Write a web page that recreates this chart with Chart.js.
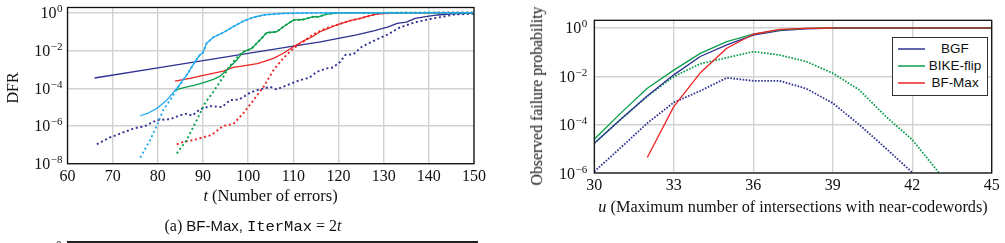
<!DOCTYPE html>
<html><head><meta charset="utf-8">
<script src="https://cdn.jsdelivr.net/npm/chart.js@4.4.1/dist/chart.umd.min.js"></script>
<style>
html,body{margin:0;padding:0;background:#fff;}
#wrap{position:relative;width:1005px;height:243px;overflow:hidden;background:#fff;}
canvas{position:absolute;top:0;}
.t{position:absolute;white-space:nowrap;font-family:"Liberation Serif",serif;color:#111;line-height:1;}
.sans{font-family:"Liberation Sans",Arial,sans-serif;}
.mono{font-family:"Liberation Mono",monospace;}
#legend{position:absolute;left:892px;top:37px;width:94px;height:57px;border:1px solid #333;background:#fff;}
#legend .row{position:absolute;left:0;width:94px;height:16px;}
#legend .ln{position:absolute;left:5px;width:27px;height:2px;top:7px;}
#legend .lb{position:absolute;left:62px;transform:translateX(-50%);white-space:nowrap;text-align:center;font-family:"Liberation Sans",Arial,sans-serif;font-size:13.5px;line-height:16px;color:#111;top:0;}
</style></head><body>
<div id="wrap">
<canvas id="c1" width="490" height="215" style="left:0px"></canvas>
<canvas id="c2" width="505" height="215" style="left:500px"></canvas>

<div class="t" style="left:270.5px;top:196px;transform:translate(-50%,-50%);font-size:16.5px;"><i>t</i> (Number of errors)</div>
<div class="t" style="left:13px;top:88px;transform:translate(-50%,-50%) rotate(-90deg);font-size:16px;">DFR</div>
<div class="t" style="left:253px;top:227px;transform:translate(-50%,-50%);font-size:16px;">(a) <span class="sans" style="font-size:15px">BF-Max,</span> <span class="mono" style="font-size:15.5px">IterMax</span> = 2<i>t</i></div>
<div style="position:absolute;left:67px;top:241.3px;width:411px;height:1.6px;background:#222;"></div>
<div class="t" style="left:56px;top:238.5px;font-size:11px;">0</div>

<div class="t" style="left:793px;top:207px;transform:translate(-50%,-50%);font-size:16.3px;"><i>u</i> (Maximum number of intersections with near-codewords)</div>
<div class="t" style="left:537px;top:96px;transform:translate(-50%,-50%) rotate(-90deg);font-size:15.8px;">Observed failure probability</div>
<div id="legend"></div>
</div>
<script>
// ---------- Left chart data: t (number of errors) vs DFR ----------
const xTicks1 = [60, 70, 80, 90, 100, 110, 120, 130, 140, 150];
const yTicks1 = [1e-8, 1e-6, 1e-4, 1e-2, 1];

const navySolidT = [66, 80, 90, 100, 110, 116, 120, 124, 128, 131, 133, 135, 137, 140, 142, 145, 150];
const navySolidV = [3.47e-4, 1.2e-3, 2.88e-3, 7.08e-3, 1.7e-2, 2.88e-2, 4.37e-2, 6.61e-2, 0.112, 0.178, 0.275, 0.316, 0.501, 0.661, 0.759, 0.871, 0.955];

const navyDotT = [66.5, 69.4, 72, 74.6, 77, 79.8, 82.7, 84.9, 86.4, 87.6, 89.3, 91.6, 94.2, 96, 98, 100.4, 102, 104.9, 106.3, 108.5, 111.5, 113.5, 115.2, 117.4, 118.8, 120.4, 121.5, 123.3, 125.2, 128.5, 130.7, 133.6, 136.6, 140.3, 143.2, 145.4, 150];
const navyDotV = [1.07e-7, 2.45e-7, 4.2e-7, 7.4e-7, 9.5e-7, 2.04e-6, 2.3e-6, 3.7e-6, 4.4e-6, 3.5e-6, 7.6e-6, 1.12e-5, 1.0e-5, 2.34e-5, 2.5e-5, 5.75e-5, 7.9e-5, 1.17e-4, 8.7e-5, 1.41e-4, 2.7e-4, 3.55e-4, 7.4e-4, 1.12e-3, 1.26e-3, 2.5e-3, 5.75e-3, 6.3e-3, 1.58e-2, 3.9e-2, 6.6e-2, 0.166, 0.295, 0.468, 0.617, 0.794, 0.89];

const cyanSolidT = [76.1, 78, 79.8, 82, 84.2, 86.4, 88.2, 89.3, 90, 90.8, 92.3, 94.5, 96.7, 98.9, 101.2, 103.5, 105.6, 108, 115, 150];
const cyanSolidV = [3.47e-6, 5e-6, 8.5e-6, 2.34e-5, 9.8e-5, 5e-4, 2.5e-3, 5.75e-3, 7.9e-3, 2.4e-2, 5e-2, 8.9e-2, 0.182, 0.355, 0.575, 0.76, 0.85, 0.93, 0.977, 1];

const cyanDotT = [76.1, 78.3, 79.8, 81.2, 82.7, 84.2, 86.4, 88.2, 89.3, 90, 90.8, 92.3, 94.5, 96.7, 98.9, 101.2, 103.5, 105.6, 108, 115, 150];
const cyanDotV = [2.1e-8, 1.8e-7, 1.1e-6, 6.9e-6, 2.34e-5, 8.7e-5, 5e-4, 2.5e-3, 5.75e-3, 7.9e-3, 2.4e-2, 5e-2, 8.9e-2, 0.182, 0.355, 0.575, 0.76, 0.85, 0.93, 0.977, 1];

const greenSolidT = [83.8, 86, 88, 90, 92.3, 93.8, 95.3, 96, 97.5, 98.9, 100.8, 101.9, 102.6, 104.1, 106.3, 107.8, 110, 112.2, 114.4, 115.5, 117.4, 120, 150];
const greenSolidV = [7.9e-5, 1.12e-4, 1.41e-4, 1.9e-4, 2.95e-4, 4.4e-4, 9.1e-4, 1.38e-3, 3.1e-3, 8.5e-3, 1.29e-2, 2.4e-2, 3.55e-2, 8.7e-2, 9.8e-2, 0.182, 0.407, 0.437, 0.617, 0.6, 0.85, 0.977, 1];

const greenDotT = [84.2, 86.4, 87.1, 88.6, 90.4, 92.3, 93, 94.5, 95.3, 96.7, 98.2, 98.9, 100.8, 101.9, 102.6, 104.1, 106.3, 107.8, 110, 112.2, 114.4, 115.5, 117.4, 120, 150];
const greenDotV = [3.5e-8, 1.8e-7, 4e-7, 2e-6, 1.55e-5, 6.5e-5, 1.17e-4, 4e-4, 9.1e-4, 2.5e-3, 6.3e-3, 8.5e-3, 1.29e-2, 2.4e-2, 3.55e-2, 8.7e-2, 9.8e-2, 0.182, 0.407, 0.437, 0.617, 0.6, 0.85, 0.977, 1];

const redSolidT = [83.8, 87.1, 89.3, 94.5, 96.7, 100, 102, 104, 105.6, 107.8, 110, 112, 114, 115.9, 117.5, 119.6, 122.6, 124.8, 127, 128.5, 130, 133, 150];
const redSolidV = [2.4e-4, 3.3e-4, 4.4e-4, 8.1e-4, 1.26e-3, 1.66e-3, 2e-3, 2.82e-3, 3.8e-3, 7.1e-3, 1.58e-2, 3.0e-2, 5e-2, 9.8e-2, 0.141, 0.224, 0.38, 0.5, 0.708, 0.851, 0.912, 0.977, 1];

const redDotT = [84.2, 85.5, 87.9, 91.6, 92.3, 94.5, 96.7, 98.9, 101.2, 103.4, 105.6, 107.8, 110, 112.2, 114.4, 116.7, 118.1, 119.6, 122.6, 124.8, 127, 128.5, 130, 133, 150];
const redDotV = [1.07e-7, 1.4e-7, 1.8e-7, 3.2e-7, 4e-7, 1e-6, 1.26e-6, 4.6e-6, 2.34e-5, 1.17e-4, 9.1e-4, 4e-3, 1.26e-2, 2.9e-2, 7.1e-2, 0.132, 0.178, 0.224, 0.38, 0.5, 0.708, 0.851, 0.912, 0.977, 1];

// ---------- Right chart data: u vs observed failure probability ----------
const uVals = [30, 31, 32, 33, 34, 35, 36, 37, 38, 39, 40, 41, 42, 43, 44, 45];
const xTicks2 = [30, 33, 36, 39, 42, 45];
const yTicks2 = [1e-6, 1e-4, 1e-2, 1];
const seriesNames = ['BGF', 'BIKE-flip', 'BF-Max'];
const bgfSolid   = [1.7e-5, 1.66e-4, 1.55e-3, 1.15e-2, 6.6e-2, 0.2, 0.51, 0.78, 0.93, 0.99, 1, 1, 1, 1, 1, 1];
const bikeSolid  = [2.5e-5, 3e-4, 3.2e-3, 1.8e-2, 8.9e-2, 0.275, 0.56, 0.83, 0.955, 1, 1, 1, 1, 1, 1, 1];
const bfmaxSolid = [null, null, 4.4e-6, 5.6e-4, 1.4e-2, 0.145, 0.55, 0.88, 0.97, 1, 1, 1, 1, 1, 1, 1];
const bgfDot     = [1.15e-6, 1.12e-5, 1.15e-4, 8.3e-4, 2.5e-3, 8.7e-3, 6.5e-3, 6.5e-3, 3.1e-3, 7.8e-4, 1e-4, 1.07e-5, 1.05e-6, null, null, null];
const bikeDot    = [1.7e-5, 1.66e-4, 1.5e-3, 9.8e-3, 3.3e-2, 5.9e-2, 0.105, 7.6e-2, 4.1e-2, 1.35e-2, 2.75e-3, 2.2e-4, 2.4e-5, 1.05e-6, null, null];

// ---------- styles ----------
const NAVY = '#2f3192', CYAN = '#22aaee', GREEN = '#0a9e4c', RED = '#ee2424', TOPRED = '#a8372e';
const GRID = '#d2d2d2';
const SERIF = 'Liberation Serif';

function pts(xs, ys) { return xs.map((x, i) => ({x: x, y: ys[i]})); }

function lineDs(label, xs, ys, color, dotted, dash, width, extra) {
  const ds = {
    label: label, data: pts(xs, ys), borderColor: color, backgroundColor: color,
    borderWidth: dotted ? width : 1.3, pointRadius: 0, tension: 0, fill: false,
    borderCapStyle: 'butt', borderJoinStyle: 'round', spanGaps: false
  };
  if (dotted) ds.borderDash = dash;
  return Object.assign(ds, extra || {});
}

const supLabels = {
  id: 'supLabels',
  afterDraw(chart, args, opts) {
    const ctx = chart.ctx, ys = chart.scales.y, a = chart.chartArea;
    ctx.save();
    ctx.fillStyle = '#111';
    ys.ticks.forEach(tk => {
      const py = ys.getPixelForValue(tk.value);
      const e = Math.round(Math.log10(tk.value));
      const es = String(e).replace('-', '\u2212');
      const xr = a.left - opts.gap;
      ctx.textAlign = 'right';
      ctx.textBaseline = 'alphabetic';
      ctx.font = '11px "' + SERIF + '"';
      const ew = ctx.measureText(es).width;
      ctx.fillText(es, xr, py - 0.5);
      ctx.font = '16px "' + SERIF + '"';
      ctx.fillText('10', xr - ew - 0.5, py + 5.5);
    });
    ctx.strokeStyle = '#111';
    ctx.lineWidth = 1.3;
    ctx.strokeRect(a.left, a.top, a.right - a.left, a.bottom - a.top);
    ctx.restore();
  }
};

function scalesCfg(xmin, xmax, xt, ymin, ymax, yt, xh, yw, tickPad) {
  return {
    x: {
      type: 'linear', min: xmin, max: xmax,
      afterBuildTicks: s => { s.ticks = xt.map(v => ({value: v})); },
      afterFit: s => { s.height = xh; },
      ticks: {font: {family: SERIF, size: 16}, color: '#111', padding: tickPad, maxRotation: 0, autoSkip: false},
      grid: {color: GRID, lineWidth: 1.4, drawTicks: false},
      border: {display: false}
    },
    y: {
      type: 'logarithmic', min: ymin, max: ymax,
      afterBuildTicks: s => { s.ticks = yt.map(v => ({value: v})); },
      afterFit: s => { s.width = yw; },
      ticks: {display: false},
      grid: {color: GRID, lineWidth: 1.4, drawTicks: false},
      border: {display: false}
    }
  };
}

const D1 = [2, 2.7], W1 = 1.9;
new Chart(document.getElementById('c1'), {
  type: 'line',
  data: {datasets: [
    lineDs('cyan dotted', cyanDotT, cyanDotV, CYAN, true, D1, W1),
    lineDs('cyan', cyanSolidT, cyanSolidV, CYAN, false),
    lineDs('green dotted', greenDotT, greenDotV, GREEN, true, D1, W1),
    lineDs('green', greenSolidT, greenSolidV, GREEN, false),
    lineDs('red dotted', redDotT, redDotV, RED, true, D1, W1),
    lineDs('red', redSolidT, redSolidV, RED, false),
    lineDs('navy dotted', navyDotT, navyDotV, NAVY, true, D1, W1),
    lineDs('navy', navySolidT, navySolidV, NAVY, false)
  ]},
  options: {
    responsive: false, animation: false, devicePixelRatio: 1,
    layout: {padding: {left: 0, top: 7.5, right: 16, bottom: 0}},
    plugins: {legend: {display: false}, tooltip: {enabled: false}, supLabels: {gap: 5}},
    scales: scalesCfg(60, 150, xTicks1, 1e-8, 1.89, yTicks1, 51.3, 67.5, 3)
  },
  plugins: [supLabels]
});

const D2 = [1.6, 1.5], W2 = 1.8;
const topSeg = {segment: {borderColor: c => (c.p0.parsed.y >= 0.99 && c.p1.parsed.y >= 0.99) ? TOPRED : undefined}};
const chart2 = new Chart(document.getElementById('c2'), {
  type: 'line',
  data: {datasets: [
    lineDs(seriesNames[2], uVals, bfmaxSolid, RED, false, null, null, Object.assign({legendEntry: true}, topSeg)),
    lineDs(seriesNames[1], uVals, bikeSolid, GREEN, false, null, null, {legendEntry: true}),
    lineDs(seriesNames[0], uVals, bgfSolid, NAVY, false, null, null, {legendEntry: true}),
    lineDs(seriesNames[1] + ' dotted', uVals, bikeDot, GREEN, true, D2, W2),
    lineDs(seriesNames[0] + ' dotted', uVals, bgfDot, NAVY, true, D2, W2)
  ]},
  options: {
    responsive: false, animation: false, devicePixelRatio: 1,
    layout: {padding: {left: 0, top: 20.3, right: 13.3, bottom: 0}},
    plugins: {legend: {display: false}, tooltip: {enabled: false}, supLabels: {gap: 7}},
    scales: scalesCfg(30, 45, xTicks2, 1e-6, 2.08, yTicks2, 42, 94.3, 3)
  },
  plugins: [supLabels]
});

// HTML legend built from the chart's datasets
(function () {
  const lg = document.getElementById('legend');
  const entries = chart2.data.datasets.filter(d => d.legendEntry);
  const order = seriesNames.map(n => entries.find(d => d.label === n));
  order.forEach((d, i) => {
    const row = document.createElement('div');
    row.className = 'row';
    row.style.top = (3 + i * 16.8) + 'px';
    const ln = document.createElement('div');
    ln.className = 'ln';
    ln.style.background = d.borderColor;
    ln.style.opacity = '0.75';
    const lb = document.createElement('div');
    lb.className = 'lb';
    lb.textContent = d.label;
    row.appendChild(ln); row.appendChild(lb);
    lg.appendChild(row);
  });
})();
</script>
</body></html>
